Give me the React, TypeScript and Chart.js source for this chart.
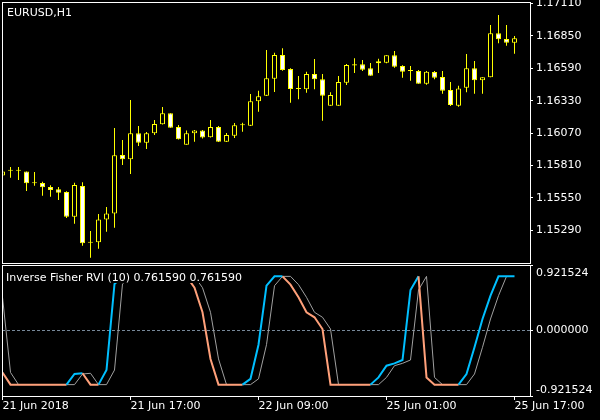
import React, { useEffect, useRef } from "react";
import { Chart, registerables } from "chart.js";

Chart.register(...registerables);

// ---- data ----
const SYMBOL_LABEL = "EURUSD,H1";
const INDICATOR_LABEL = "Inverse Fisher RVI (10) 0.761590 0.761590";

const OPEN = [
  1.1573, 1.15768, 1.15768, 1.15763, 1.15667, 1.15669, 1.15637, 1.15619, 1.15597, 1.15399,
  1.15645, 1.1519, 1.15194, 1.15378, 1.15426, 1.15894, 1.1586, 1.16068, 1.15993, 1.16068,
  1.16141, 1.16229, 1.16119, 1.15977, 1.16068, 1.16092, 1.16036, 1.16119, 1.16001, 1.16049,
  1.16133, 1.16129, 1.16325, 1.1637, 1.16506, 1.16697, 1.16584, 1.16424, 1.16421, 1.16544,
  1.16502, 1.1629, 1.1629, 1.16474, 1.16612, 1.16622, 1.1659, 1.1663, 1.16635, 1.16694,
  1.16608, 1.16568, 1.16568, 1.16466, 1.1656, 1.1652, 1.16416, 1.1629, 1.16434, 1.1659,
  1.16494, 1.16518, 1.16871, 1.16825, 1.16795,
];
const HIGH = [
  1.15774, 1.15798, 1.15798, 1.15763, 1.15758, 1.1568, 1.15651, 1.15637, 1.15603, 1.15672,
  1.15675, 1.15284, 1.15421, 1.15477, 1.16111, 1.16015, 1.16336, 1.16127, 1.16079, 1.16175,
  1.16279, 1.16229, 1.16135, 1.16092, 1.16095, 1.16095, 1.16175, 1.16127, 1.16071, 1.16151,
  1.16153, 1.16384, 1.1641, 1.16737, 1.16715, 1.1675, 1.1659, 1.16528, 1.16563, 1.16665,
  1.16544, 1.16397, 1.16528, 1.16624, 1.1667, 1.16657, 1.16632, 1.16667, 1.16694, 1.16729,
  1.16614, 1.16608, 1.16576, 1.16568, 1.16568, 1.16568, 1.1648, 1.1645, 1.16705, 1.16649,
  1.16518, 1.16937, 1.17018, 1.16937, 1.16849,
];
const LOW = [
  1.15718, 1.15712, 1.15694, 1.15605, 1.15648, 1.15568, 1.1556, 1.15533, 1.15389, 1.15343,
  1.15166, 1.1507, 1.15142, 1.15279, 1.15311, 1.15814, 1.15742, 1.15966, 1.15942, 1.16055,
  1.16139, 1.16113, 1.16019, 1.15977, 1.16001, 1.16027, 1.16035, 1.15999, 1.15999, 1.16031,
  1.16081, 1.16127, 1.16242, 1.16368, 1.164, 1.16571, 1.16314, 1.16341, 1.16394, 1.16421,
  1.16169, 1.1629, 1.1629, 1.16456, 1.16552, 1.16568, 1.16531, 1.16552, 1.1663, 1.16595,
  1.16515, 1.1649, 1.16466, 1.16458, 1.16502, 1.16386, 1.16287, 1.16282, 1.16397, 1.16386,
  1.16386, 1.16518, 1.16791, 1.16771, 1.16707,
];
const CLOSE = [
  1.15762, 1.15768, 1.15768, 1.15667, 1.15667, 1.15635, 1.15613, 1.15592, 1.15399, 1.15653,
  1.15186, 1.1519, 1.15378, 1.15426, 1.15892, 1.1586, 1.16068, 1.15993, 1.16068, 1.16143,
  1.16229, 1.16113, 1.1602, 1.16068, 1.16092, 1.16035, 1.16119, 1.16001, 1.16055, 1.16133,
  1.16133, 1.16325, 1.16365, 1.1651, 1.16697, 1.16576, 1.16424, 1.16424, 1.16544, 1.16502,
  1.1637, 1.16376, 1.1648, 1.16616, 1.16623, 1.16579, 1.16531, 1.16646, 1.16694, 1.16603,
  1.16563, 1.16568, 1.16466, 1.16563, 1.16515, 1.1641, 1.16295, 1.16429, 1.1659, 1.16494,
  1.16518, 1.16871, 1.16823, 1.16795, 1.16831,
];

const IFISH = [
  -0.59, -0.76159, -0.76159, -0.76159, -0.76159, -0.76159, -0.76159, -0.76159, -0.76159,
  -0.612, -0.602, -0.76159, -0.76159, -0.556, 0.655,
  0.76159, 0.76159, 0.76159, 0.76159, 0.76159, 0.76159, 0.76159, 0.76159, 0.76159,
  0.602, 0.256, -0.4,
  -0.76159, -0.76159, -0.76159, -0.76159,
  -0.68, -0.2, 0.63, 0.76159, 0.76159, 0.645, 0.467, 0.256, 0.186, 0.021,
  -0.76159, -0.76159, -0.76159, -0.76159, -0.76159, -0.76159,
  -0.66, -0.495, -0.462, -0.415, 0.57, 0.76159, -0.66,
  -0.76159, -0.76159, -0.76159, -0.76159,
  -0.612, -0.236, 0.162, 0.49, 0.76159, 0.76159, 0.76159,
];
const SIGNAL = [
  0.467, -0.59, -0.76159, -0.76159, -0.76159, -0.76159, -0.76159, -0.76159, -0.76159, -0.76159,
  -0.612, -0.602, -0.76159, -0.76159, -0.556, 0.655,
  0.76159, 0.76159, 0.76159, 0.76159, 0.76159, 0.76159, 0.76159, 0.76159, 0.76159,
  0.602, 0.256, -0.4,
  -0.76159, -0.76159, -0.76159, -0.76159,
  -0.68, -0.2, 0.63, 0.76159, 0.76159, 0.645, 0.467, 0.256, 0.186, 0.021,
  -0.76159, -0.76159, -0.76159, -0.76159, -0.76159, -0.76159,
  -0.66, -0.495, -0.462, -0.415, 0.57, 0.76159, -0.66,
  -0.76159, -0.76159, -0.76159, -0.76159,
  -0.612, -0.236, 0.162, 0.49, 0.76159,
];

const PRICE_TICKS = [1.1529, 1.1555, 1.1581, 1.1607, 1.1633, 1.1659, 1.1685, 1.1711];
const IND_TICKS = [-0.921524, 0, 0.921524];
const TIME_TICKS = [0, 16, 32, 48, 64];
const TIME_LABELS = ["21 Jun 2018", "21 Jun 17:00", "22 Jun 09:00", "25 Jun 01:00", "25 Jun 17:00"];

// ---- styles ----
const FONT_FAMILY = "'DejaVu Sans', sans-serif";
const CANDLE = "#ffff00";
const UP = "#00bfff";
const DOWN = "#ffa07a";
const SIG = "#a0a0a0";
const LEVEL = "#778899";
const X_MIN = -0.0625;
const X_MAX = 65.9375;

const framePlugin = {
  id: "frame",
  afterDraw(chart: any) {
    const { ctx, chartArea: a } = chart;
    ctx.save();
    ctx.strokeStyle = "#ffffff";
    ctx.lineWidth = 1;
    ctx.strokeRect(a.left + 0.5, a.top + 0.5, a.right - a.left, a.bottom - a.top);
    ctx.restore();
  },
};

export default function App() {
  const mainRef = useRef<HTMLCanvasElement>(null);
  const subRef = useRef<HTMLCanvasElement>(null);

  useEffect(() => {
    const idx = OPEN.map((_, i) => i);
    const bodies = idx.map((i) => ({ x: i, y: [OPEN[i], CLOSE[i]] }));
    const wicks = idx.map((i) => ({ x: i, y: [LOW[i], HIGH[i]] }));
    const bodyFill = idx.map((i) => (CLOSE[i] >= OPEN[i] ? "#000000" : "#ffffff"));

    const segColors: string[] = [];
    let last = DOWN;
    for (let i = 0; i < IFISH.length - 1; i++) {
      if (IFISH[i + 1] > IFISH[i]) last = UP;
      else if (IFISH[i + 1] < IFISH[i]) last = DOWN;
      segColors.push(last);
    }

    const titlePlugin = {
      id: "title",
      afterDraw(chart: any) {
        const { ctx, chartArea: a } = chart;
        ctx.save();
        ctx.font = `11px ${FONT_FAMILY}`;
        ctx.fillStyle = "#ffffff";
        ctx.textBaseline = "alphabetic";
        ctx.fillText(SYMBOL_LABEL, a.left + 5, a.top + 14);
        ctx.restore();
      },
    };

    const labelPlugin = {
      id: "indLabel",
      afterDatasetsDraw(chart: any) {
        const { ctx, chartArea: a } = chart;
        ctx.save();
        ctx.font = `11px ${FONT_FAMILY}`;
        const w = ctx.measureText(INDICATOR_LABEL).width;
        ctx.fillStyle = "#000000";
        ctx.fillRect(a.left + 1, a.top + 1, w + 6, 17);
        ctx.fillStyle = "#ffffff";
        ctx.textBaseline = "alphabetic";
        ctx.fillText(INDICATOR_LABEL, a.left + 4, a.top + 16);
        ctx.restore();
      },
    };

    const mainChart = new Chart(mainRef.current as HTMLCanvasElement, {
      type: "bar",
      data: {
        datasets: [
          {
            data: bodies as any,
            backgroundColor: bodyFill,
            borderColor: CANDLE,
            borderWidth: 1,
            borderSkipped: false,
            grouped: false,
            barThickness: 5,
            minBarLength: 1,
            inflateAmount: 0,
          } as any,
          {
            data: wicks as any,
            backgroundColor: CANDLE,
            borderWidth: 0,
            grouped: false,
            barThickness: 1,
            inflateAmount: 0,
          } as any,
        ],
      },
      options: {
        animation: false,
        responsive: false,
        events: [],
        layout: { padding: { left: 2, top: 2, right: 0, bottom: 1 } },
        plugins: { legend: { display: false }, tooltip: { enabled: false } },
        scales: {
          x: {
            type: "linear",
            display: false,
            min: X_MIN,
            max: X_MAX,
            offset: false,
            grid: { offset: false },
          },
          y: {
            type: "linear",
            position: "right",
            min: 1.15028,
            max: 1.17122,
            beginAtZero: false,
            afterBuildTicks: (s: any) => {
              s.ticks = PRICE_TICKS.map((v) => ({ value: v }));
            },
            afterFit: (s: any) => {
              s.width = 70;
              s.paddingTop = 0;
              s.paddingBottom = 0;
            },
            grid: { drawOnChartArea: false, drawTicks: true, tickLength: 3, tickColor: "#ffffff", color: "#ffffff" },
            border: { display: false },
            ticks: {
              color: "#ffffff",
              padding: 3,
              autoSkip: false,
              font: { family: FONT_FAMILY, size: 11 },
              callback: (v: any) => Number(v).toFixed(5),
            },
          },
        } as any,
      },
      plugins: [framePlugin, titlePlugin],
    });

    const subChart = new Chart(subRef.current as HTMLCanvasElement, {
      type: "line",
      data: {
        datasets: [
          {
            data: idx.map((i) => ({ x: i, y: IFISH[i] })),
            borderColor: UP,
            borderWidth: 2,
            pointRadius: 0,
            tension: 0,
            segment: { borderColor: (c: any) => segColors[c.p0DataIndex] },
          } as any,
          {
            data: idx.map((i) => ({ x: i, y: SIGNAL[i] })),
            borderColor: SIG,
            borderWidth: 1,
            pointRadius: 0,
            tension: 0,
          } as any,
        ],
      },
      options: {
        animation: false,
        responsive: false,
        events: [],
        layout: { padding: { left: 2, top: 1, right: 0, bottom: 0 } },
        plugins: { legend: { display: false }, tooltip: { enabled: false } },
        scales: {
          x: {
            type: "linear",
            min: X_MIN,
            max: X_MAX,
            offset: false,
            afterBuildTicks: (s: any) => {
              s.ticks = TIME_TICKS.map((v) => ({ value: v }));
            },
            afterFit: (s: any) => {
              s.height = 24;
              s.paddingLeft = 0;
              s.paddingRight = 0;
            },
            grid: { drawOnChartArea: false, drawTicks: true, tickLength: 4, tickColor: "#ffffff", color: "#ffffff" },
            border: { display: false },
            ticks: {
              color: "#ffffff",
              align: "start",
              maxRotation: 0,
              autoSkip: false,
              padding: 0,
              font: { family: FONT_FAMILY, size: 11 },
              callback: (_v: any, i: number) => TIME_LABELS[i],
            },
          },
          y: {
            type: "linear",
            position: "right",
            min: IND_TICKS[0],
            max: IND_TICKS[2],
            afterBuildTicks: (s: any) => {
              s.ticks = IND_TICKS.map((v) => ({ value: v }));
            },
            afterFit: (s: any) => {
              s.width = 70;
              s.paddingTop = 0;
              s.paddingBottom = 0;
            },
            grid: {
              drawOnChartArea: true,
              drawTicks: true,
              tickLength: 3,
              tickColor: "#ffffff",
              lineWidth: 1,
              color: (c: any) => (c.tick && c.tick.value === 0 ? LEVEL : "rgba(0,0,0,0)"),
            },
            border: { display: false, dash: [3, 2] },
            ticks: {
              color: "#ffffff",
              padding: 3,
              autoSkip: false,
              font: (c: any) => ({
                family: FONT_FAMILY,
                size: 11,
                lineHeight: c.index === 0 ? "12px" : c.index === 2 ? "16px" : 1.2,
              }),
              callback: (v: any, i: number) => {
                const t = Number(v).toFixed(6);
                if (i === 0) return [t, ""];
                if (i === 2) return ["", t];
                return t;
              },
            },
          },
        } as any,
      },
      plugins: [labelPlugin, framePlugin],
    });

    return () => {
      mainChart.destroy();
      subChart.destroy();
    };
  }, []);

  return (
    <div style={{ position: "fixed", left: 0, top: 0, width: 600, height: 420, background: "#000000" }}>
      <canvas
        ref={mainRef}
        width={600}
        height={264}
        style={{ position: "absolute", left: 0, top: 0, width: 600, height: 264, display: "block" }}
      />
      <canvas
        ref={subRef}
        width={600}
        height={156}
        style={{ position: "absolute", left: 0, top: 264, width: 600, height: 156, display: "block" }}
      />
    </div>
  );
}
